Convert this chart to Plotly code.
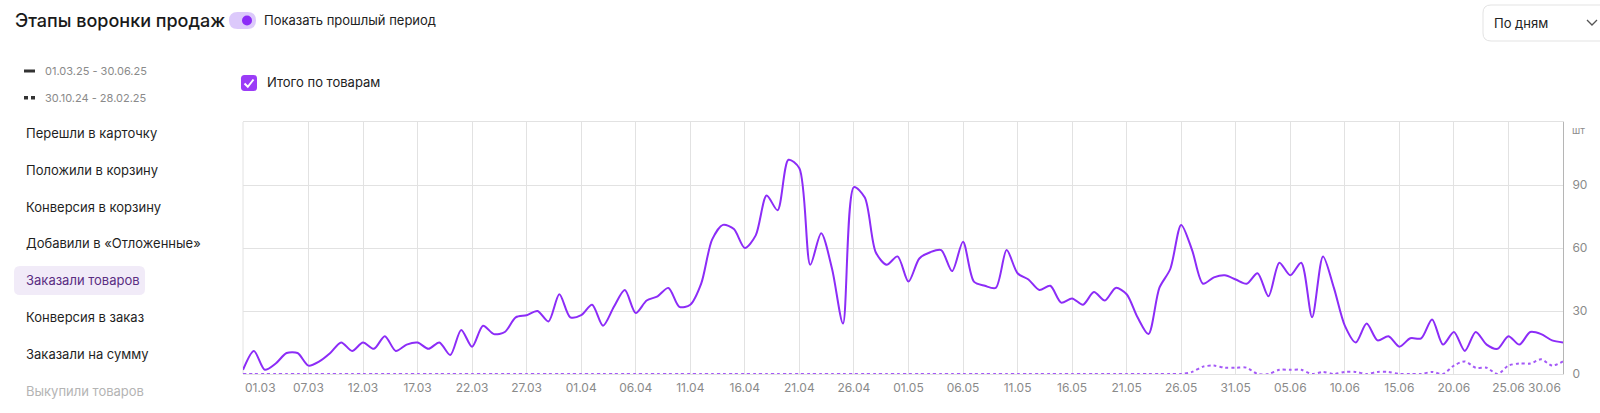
import pandas as pd
import plotly.graph_objects as go

# ---------------- data ----------------
start_date = "2025-03-01"
n_days = 122
dates = pd.date_range(start_date, periods=n_days, freq="D")

current_period = [
    2, 11, 2, 5, 10, 10, 4, 6, 10, 15,
    11, 15, 12, 18, 11, 14, 15, 12, 15, 9,
    21, 13, 23, 19, 20, 27, 28, 30, 25, 38,
    27, 28, 33, 23, 32, 40, 29, 35, 37, 41,
    32, 33, 43, 64, 71, 69, 60, 66, 85, 78,
    102, 98, 52, 67, 50, 24, 89, 84, 58, 52,
    56, 44, 55, 58, 59, 49, 63, 44, 42, 41,
    59, 48, 45, 40, 42, 34, 36, 33, 39, 35,
    41, 38, 27, 19, 41, 50, 71, 59, 43, 46,
    47, 45, 43, 48, 37, 53, 47, 53, 27, 56,
    41, 23, 15, 24, 16, 18, 13, 17, 17, 26,
    14, 20, 11, 20, 14, 12, 18, 14, 20, 19,
    16, 15,
]

previous_period = [0] * 87 + [
    1, 3.5, 4, 3, 3, 3, 0, 0, 2, 2,
    2, 0, 1, 0, 1, 1, 0, 1, 1, 0,
    0, 0, 1, 0, 4, 6, 3, 3, 0, 4,
    5, 5, 7, 4, 6,
]

x_tick_dates = [
    "2025-03-01", "2025-03-07", "2025-03-12", "2025-03-17", "2025-03-22",
    "2025-03-27", "2025-04-01", "2025-04-06", "2025-04-11", "2025-04-16",
    "2025-04-21", "2025-04-26", "2025-05-01", "2025-05-06", "2025-05-11",
    "2025-05-16", "2025-05-21", "2025-05-26", "2025-05-31", "2025-06-05",
    "2025-06-10", "2025-06-15", "2025-06-20", "2025-06-25", "2025-06-30",
]
x_tick_labels = [
    "01.03", "07.03", "12.03", "17.03", "22.03", "27.03", "01.04", "06.04",
    "11.04", "16.04", "21.04", "26.04", "01.05", "06.05", "11.05", "16.05",
    "21.05", "26.05", "31.05", "05.06", "10.06", "15.06", "20.06", "25.06",
    "30.06",
]
y_ticks = [0, 30, 60, 90]
y_max = 120

menu_items = [
    "Перешли в карточку", "Положили в корзину", "Конверсия в корзину",
    "Добавили в «Отложенные»", "Заказали товаров", "Конверсия в заказ",
    "Заказали на сумму", "Выкупили товаров",
]
selected_item = "Заказали товаров"

# ---------------- layout geometry ----------------
W, H = 1600, 413
L, R, T, B = 243, 37, 122, 39
PW, PH = W - L - R, H - T - B

def px(x):
    return (x - L) / PW

def py(y):
    return (H - B - y) / PH

def rrect(x0, y0, x1, y1, r):
    pts = [
        ("M", x0 + r, y0), ("L", x1 - r, y0), ("Q", x1, y0, x1, y0 + r),
        ("L", x1, y1 - r), ("Q", x1, y1, x1 - r, y1), ("L", x0 + r, y1),
        ("Q", x0, y1, x0, y1 - r), ("L", x0, y0 + r), ("Q", x0, y0, x0 + r, y0),
    ]
    s = ""
    for p in pts:
        cmd = p[0]
        coords = p[1:]
        parts = []
        for i in range(0, len(coords), 2):
            parts.append(f"{px(coords[i]):.5f},{py(coords[i+1]):.5f}")
        s += cmd + " " + " ".join(parts) + " "
    return s + "Z"

def pline(points):
    return "M " + " L ".join(f"{px(a):.5f},{py(b):.5f}" for a, b in points)

FONT = "Inter, Roboto, sans-serif"
PURPLE = "#8C2CF7"
PURPLE_LIGHT = "#A459F7"
TICK_GRAY = "#8a8a8a"

fig = go.Figure()
fig.add_trace(go.Scatter(
    x=dates, y=previous_period, mode="lines",
    line=dict(color=PURPLE_LIGHT, width=2, dash="dot", shape="spline", smoothing=0.8),
    hoverinfo="skip", showlegend=False,
))
fig.add_trace(go.Scatter(
    x=dates, y=current_period, mode="lines",
    line=dict(color=PURPLE, width=2, shape="spline", smoothing=0.8),
    showlegend=False,
))

tick_text = [""] + x_tick_labels[1:-1] + [""]

fig.update_layout(
    width=W, height=H,
    margin=dict(l=L, r=R, t=T, b=B, pad=0),
    paper_bgcolor="white", plot_bgcolor="white",
    font=dict(family=FONT, color="#222"),
    xaxis=dict(
        range=[dates[0], dates[-1]],
        tickvals=x_tick_dates, ticktext=tick_text,
        showgrid=True, gridcolor="#e2e2e2", gridwidth=1,
        showline=True, mirror=True, linecolor="#e2e2e2", linewidth=1,
        ticks="outside", ticklen=3, tickcolor="rgba(0,0,0,0)",
        tickfont=dict(size=12, color=TICK_GRAY, family=FONT),
        zeroline=False, fixedrange=True,
    ),
    yaxis=dict(
        range=[0, y_max], side="right",
        tickvals=y_ticks, ticktext=[str(v) for v in y_ticks],
        showgrid=True, gridcolor="#e2e2e2", gridwidth=1,
        showline=True, linecolor="#b5b5b5", linewidth=1,
        ticks="outside", ticklen=6, tickcolor="rgba(0,0,0,0)",
        tickfont=dict(size=12, color=TICK_GRAY, family=FONT),
        zeroline=False, fixedrange=True,
    ),
)

ann = []
ann.append(dict(x=x_tick_dates[0], y=py(387), xref="x", yref="paper", text=x_tick_labels[0],
                showarrow=False, xanchor="left", yanchor="middle",
                font=dict(size=12, color=TICK_GRAY, family=FONT)))
ann.append(dict(x=x_tick_dates[-1], y=py(387), xref="x", yref="paper", text=x_tick_labels[-1],
                showarrow=False, xanchor="right", yanchor="middle",
                font=dict(size=12, color=TICK_GRAY, family=FONT)))
ann.append(dict(x=px(1570), y=py(130), xref="paper", yref="paper", text="шт",
                showarrow=False, xanchor="left", yanchor="middle",
                font=dict(size=10, color=TICK_GRAY, family=FONT)))
ann.append(dict(x=px(13), y=py(20), xref="paper", yref="paper", text="Этапы воронки продаж",
                showarrow=False, xanchor="left", yanchor="middle",
                font=dict(size=18, color="#1a1a1a", family=FONT, weight=500)))
ann.append(dict(x=px(262), y=py(20), xref="paper", yref="paper", text="Показать прошлый период",
                showarrow=False, xanchor="left", yanchor="middle",
                font=dict(size=13, color="#222", family=FONT)))
ann.append(dict(x=px(43), y=py(71), xref="paper", yref="paper", text="01.03.25 - 30.06.25",
                showarrow=False, xanchor="left", yanchor="middle",
                font=dict(size=11, color=TICK_GRAY, family=FONT)))
ann.append(dict(x=px(43), y=py(98), xref="paper", yref="paper", text="30.10.24 - 28.02.25",
                showarrow=False, xanchor="left", yanchor="middle",
                font=dict(size=11, color=TICK_GRAY, family=FONT)))
ann.append(dict(x=px(265), y=py(82), xref="paper", yref="paper", text="Итого по товарам",
                showarrow=False, xanchor="left", yanchor="middle",
                font=dict(size=13, color="#222", family=FONT)))
ann.append(dict(x=px(1492), y=py(23), xref="paper", yref="paper", text="По дням",
                showarrow=False, xanchor="left", yanchor="middle",
                font=dict(size=13, color="#222", family=FONT)))
menu_y = [133, 170, 207, 243, 280, 317, 354, 391]
for name, yy in zip(menu_items, menu_y):
    if name == selected_item:
        col = "#5a2d82"
    elif name == menu_items[-1]:
        col = "#b4b4b4"
    else:
        col = "#1f1f1f"
    ann.append(dict(x=px(24), y=py(yy), xref="paper", yref="paper", text=name,
                    showarrow=False, xanchor="left", yanchor="middle",
                    font=dict(size=13, color=col, family=FONT)))
fig.update_layout(annotations=ann)

shapes = []
shapes.append(dict(type="line", xref="paper", yref="paper", x0=0, x1=0, y0=0, y1=1,
                   line=dict(color="#e2e2e2", width=1), layer="below"))
shapes.append(dict(type="path", xref="paper", yref="paper", path=rrect(229, 12, 256, 29, 8.5),
                   fillcolor="#dcc9fb", line=dict(width=0)))
shapes.append(dict(type="circle", xref="paper", yref="paper",
                   x0=px(242), x1=px(252), y0=py(25.5), y1=py(15.5),
                   fillcolor="#8C2CF7", line=dict(width=0)))
shapes.append(dict(type="line", xref="paper", yref="paper", x0=px(24), x1=px(35), y0=py(71), y1=py(71),
                   line=dict(color="#333", width=3)))
shapes.append(dict(type="rect", xref="paper", yref="paper", x0=px(24), x1=px(28), y0=py(99.5), y1=py(96),
                   fillcolor="#333", line=dict(width=0)))
shapes.append(dict(type="rect", xref="paper", yref="paper", x0=px(31), x1=px(35), y0=py(99.5), y1=py(96),
                   fillcolor="#333", line=dict(width=0)))
shapes.append(dict(type="path", xref="paper", yref="paper", path=rrect(241, 75, 257, 91, 3.5),
                   fillcolor="#9B3CF7", line=dict(width=0)))
shapes.append(dict(type="path", xref="paper", yref="paper",
                   path=pline([(244.5, 83.5), (247.8, 86.8), (253.5, 79.5)]),
                   line=dict(color="white", width=2)))
shapes.append(dict(type="path", xref="paper", yref="paper", path=rrect(14, 266, 145, 295, 6),
                   fillcolor="#f1ebf8", line=dict(width=0), layer="below"))
shapes.append(dict(type="path", xref="paper", yref="paper", path=rrect(1483, 5, 1612, 41, 8),
                   fillcolor="white", line=dict(color="#e3e3e3", width=1)))
shapes.append(dict(type="path", xref="paper", yref="paper",
                   path=pline([(1587, 20), (1592, 25), (1597, 20)]),
                   line=dict(color="#555", width=1.3)))
fig.update_layout(shapes=shapes)

fig.write_html(
    "out.html",
    config={"displayModeBar": False},
    post_script="document.body.style.margin='0';document.body.style.overflow='hidden';",
)
